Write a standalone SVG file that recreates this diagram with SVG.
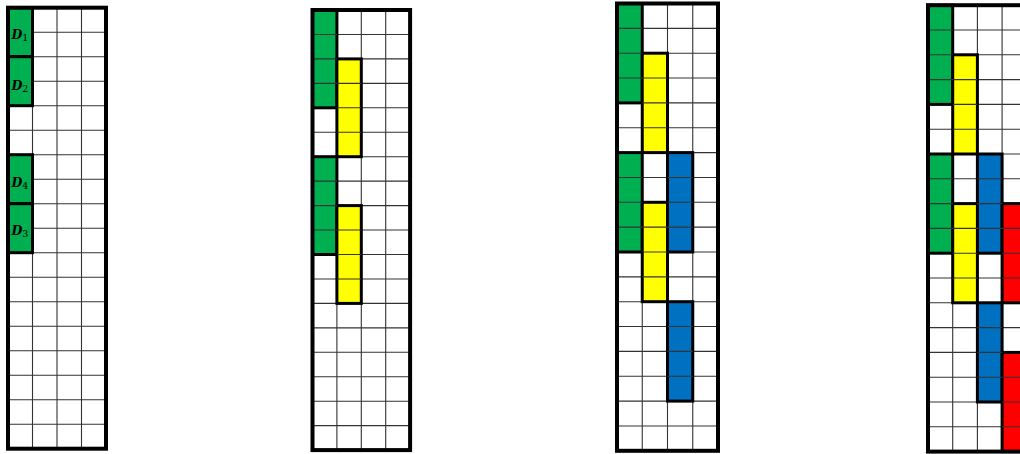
<svg xmlns="http://www.w3.org/2000/svg" width="1020" height="454" viewBox="0 0 1020 454">
<style>
.bg{fill:#ffffff}
.grid{fill:none;stroke:#333333;stroke-width:1.1}
.blk{stroke:#000;stroke-width:3}
.g{fill:#00B050}
.y{fill:#FFFF00}
.b{fill:#0070C0}
.r{fill:#FF0000}
.outer{fill:none;stroke:#000;stroke-width:4}
.lbl{font-family:"DejaVu Serif","Liberation Serif",serif;font-style:italic;font-weight:bold;font-size:12.5px;fill:#000}
.sub{font-style:normal;font-weight:normal;font-size:9.5px}
</style>
<rect class="bg" x="0" y="0" width="1020" height="454"/>

<g id="grid1" transform="translate(8,7.7)">
<rect class="bg" x="0" y="0" width="98" height="441"/>
<path class="grid" d="M24.5 0V441M49 0V441M73.5 0V441M0 24.5H98M0 49H98M0 73.5H98M0 98H98M0 122.5H98M0 147H98M0 171.5H98M0 196H98M0 220.5H98M0 245H98M0 269.5H98M0 294H98M0 318.5H98M0 343H98M0 367.5H98M0 392H98M0 416.5H98"/>
<g id="D1"><rect class="blk g" x="0" y="0" width="24.5" height="49"/><text class="lbl" x="3.5" y="31.5">D<tspan class="sub" dy="1.5">1</tspan></text></g>
<g id="D2"><rect class="blk g" x="0" y="49" width="24.5" height="49"/><text class="lbl" x="3.5" y="82.5">D<tspan class="sub" dy="1.5">2</tspan></text></g>
<g id="D4"><rect class="blk g" x="0" y="147" width="24.5" height="49"/><text class="lbl" x="3.5" y="179.5">D<tspan class="sub" dy="1.5">4</tspan></text></g>
<g id="D3"><rect class="blk g" x="0" y="196" width="24.5" height="49"/><text class="lbl" x="3.5" y="227.5">D<tspan class="sub" dy="1.5">3</tspan></text></g>
<rect class="outer" x="0" y="0" width="98" height="441"/>
</g>

<g id="grid2" transform="translate(312.5,10)">
<rect class="bg" x="0" y="0" width="97.6" height="440.1"/>
<path class="grid" d="M24.4 0V440.1M48.8 0V440.1M73.2 0V440.1M0 24.45H97.6M0 48.9H97.6M0 73.35H97.6M0 97.8H97.6M0 122.25H97.6M0 146.7H97.6M0 171.15H97.6M0 195.6H97.6M0 220.05H97.6M0 244.5H97.6M0 268.95H97.6M0 293.4H97.6M0 317.85H97.6M0 342.3H97.6M0 366.75H97.6M0 391.2H97.6M0 415.65H97.6"/>
<rect class="blk g" x="0" y="0" width="24.4" height="97.8"/>
<rect class="blk y" x="24.4" y="48.9" width="24.4" height="97.8"/>
<rect class="blk g" x="0" y="146.7" width="24.4" height="97.8"/>
<rect class="blk y" x="24.4" y="195.6" width="24.4" height="97.8"/>
<path class="grid" d="M0 24.45H24.4M0 48.9H24.4M0 73.35H48.8M24.4 97.8H48.8M24.4 122.25H48.8M0 171.15H24.4M0 195.6H24.4M0 220.05H48.8M24.4 244.5H48.8M24.4 268.95H48.8"/>
<rect class="outer" x="0" y="0" width="97.6" height="440.1"/>
</g>

<g id="grid3" transform="translate(617,3.5)">
<rect class="bg" x="0" y="0" width="101" height="447.3"/>
<path class="grid" d="M25.25 0V447.3M50.5 0V447.3M75.75 0V447.3M0 24.85H101M0 49.7H101M0 74.55H101M0 99.4H101M0 124.25H101M0 149.1H101M0 173.95H101M0 198.8H101M0 223.65H101M0 248.5H101M0 273.35H101M0 298.2H101M0 323.05H101M0 347.9H101M0 372.75H101M0 397.6H101M0 422.45H101"/>
<rect class="blk g" x="0" y="0" width="25.25" height="99.4"/>
<rect class="blk y" x="25.25" y="49.7" width="25.25" height="99.4"/>
<rect class="blk g" x="0" y="149.1" width="25.25" height="99.4"/>
<rect class="blk b" x="50.5" y="149.1" width="25.25" height="99.4"/>
<rect class="blk y" x="25.25" y="198.8" width="25.25" height="99.4"/>
<rect class="blk b" x="50.5" y="298.2" width="25.25" height="99.4"/>
<path class="grid" d="M0 24.85H25.25M0 49.7H25.25M0 74.55H50.5M25.25 99.4H50.5M25.25 124.25H50.5M0 173.95H25.25M50.5 173.95H75.75M0 198.8H25.25M50.5 198.8H75.75M0 223.65H75.75M25.25 248.5H50.5M25.25 273.35H50.5M50.5 323.05H75.75M50.5 347.9H75.75M50.5 372.75H75.75"/>
<rect class="outer" x="0" y="0" width="101" height="447.3"/>
</g>

<g id="grid4" transform="translate(928,5.2)">
<rect class="bg" x="0" y="0" width="98.8" height="446.4"/>
<path class="grid" d="M24.7 0V446.4M49.4 0V446.4M74.1 0V446.4M0 24.8H98.8M0 49.6H98.8M0 74.4H98.8M0 99.2H98.8M0 124H98.8M0 148.8H98.8M0 173.6H98.8M0 198.4H98.8M0 223.2H98.8M0 248H98.8M0 272.8H98.8M0 297.6H98.8M0 322.4H98.8M0 347.2H98.8M0 372H98.8M0 396.8H98.8M0 421.6H98.8"/>
<rect class="blk g" x="0" y="0" width="24.7" height="99.2"/>
<rect class="blk y" x="24.7" y="49.6" width="24.7" height="99.2"/>
<rect class="blk g" x="0" y="148.8" width="24.7" height="99.2"/>
<rect class="blk b" x="49.4" y="148.8" width="24.7" height="99.2"/>
<rect class="blk y" x="24.7" y="198.4" width="24.7" height="99.2"/>
<rect class="blk r" x="74.1" y="198.4" width="24.7" height="99.2"/>
<rect class="blk b" x="49.4" y="297.6" width="24.7" height="99.2"/>
<rect class="blk r" x="74.1" y="347.2" width="24.7" height="99.2"/>
<path class="grid" d="M0 24.8H24.7M0 49.6H24.7M0 74.4H49.4M24.7 99.2H49.4M24.7 124H49.4M0 173.6H24.7M49.4 173.6H74.1M0 198.4H24.7M49.4 198.4H74.1M0 223.2H98.8M24.7 248H49.4M74.1 248H98.8M24.7 272.8H49.4M74.1 272.8H98.8M49.4 322.4H74.1M49.4 347.2H74.1M49.4 372H98.8M74.1 396.8H98.8M74.1 421.6H98.8"/>
<rect class="outer" x="0" y="0" width="98.8" height="446.4"/>
</g>
</svg>
